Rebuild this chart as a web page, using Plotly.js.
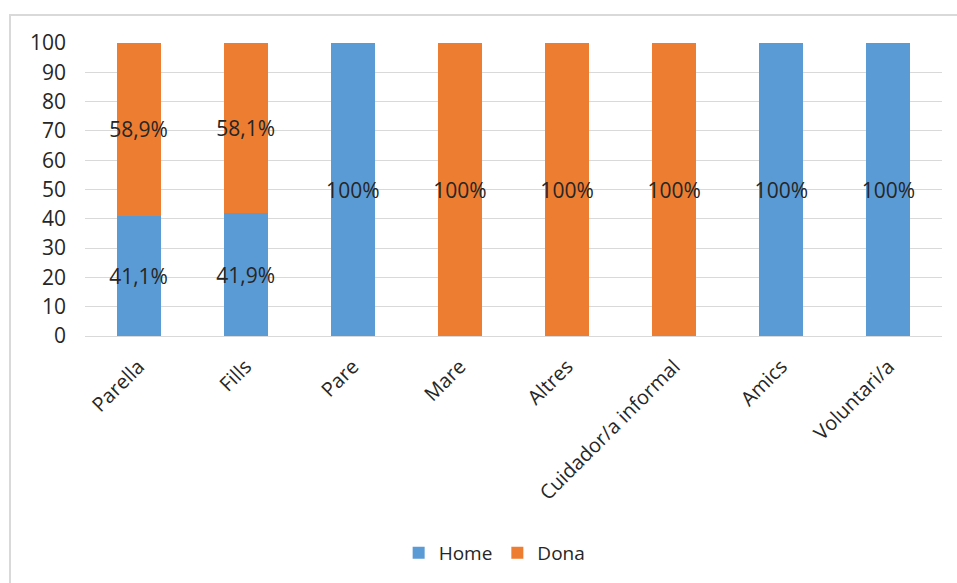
<!DOCTYPE html>
<html><head><meta charset="utf-8">
<script src="https://cdn.plot.ly/plotly-3.0.1.min.js"></script>
<style>
html,body{margin:0;padding:0;background:#fff;}
#frame{position:absolute;left:9px;top:14px;width:960px;height:580px;border:2px solid #d9d9d9;box-sizing:border-box;}
#chart{position:absolute;left:0;top:0;width:957px;height:583px;}
</style></head>
<body>
<div id="frame"></div>
<div id="chart"></div>
<script>
const categories = ["Parella","Fills","Pare","Mare","Altres","Cuidador/a informal","Amics","Voluntari/a"];
const home = [41.1, 41.9, 100, 0, 0, 0, 100, 100];
const dona = [58.9, 58.1, 0, 100, 100, 100, 0, 0];
const homeLabels = ["41,1%","41,9%","100%","","","","100%","100%"];
const donaLabels = ["58,9%","58,1%","","100%","100%","100%","",""];
const yTicks = [0,10,20,30,40,50,60,70,80,90,100];

const font = "Open Sans, Liberation Sans, Arial, sans-serif";
const fs = 21;
const common = {type:'bar', textposition:'inside', insidetextanchor:'middle', textangle:0,
  constraintext:'none', cliponaxis:false, insidetextfont:{family:font,size:fs,color:'#262626'},
  hoverinfo:'none'};
const traces = [
  Object.assign({}, common, {name:'Home', x:categories, y:home, text:homeLabels, marker:{color:'#5B9BD5'}}),
  Object.assign({}, common, {name:'Dona', x:categories, y:dona, text:donaLabels, marker:{color:'#ED7D31'}})
];
const layout = {
  width:957, height:583, barmode:'stack', bargap:0.59,
  paper_bgcolor:'rgba(0,0,0,0)', plot_bgcolor:'rgba(0,0,0,0)',
  margin:{l:85,r:15,t:43,b:246},
  font:{family:font,size:fs,color:'#262626'},
  xaxis:{automargin:false, tickangle:-45, showgrid:false, showline:true, linecolor:'#d9d9d9', linewidth:1, ticks:'', ticklabelstandoff:10, tickfont:{size:20,color:'#262626'}},
  yaxis:{automargin:false, range:[0,100], tickvals:yTicks, showgrid:true, gridcolor:'#d9d9d9', zeroline:false, ticks:'', ticklabelstandoff:18, tickfont:{size:21,color:'#262626'}},
  showlegend:true,
  legend:{orientation:'h', x:0.478, xanchor:'center', y:-0.67, yanchor:'top', font:{size:19,color:'#262626'}, traceorder:'normal', itemwidth:30}
};
Plotly.newPlot('chart', traces, layout, {staticPlot:true, displayModeBar:false});
</script>
</body></html>
